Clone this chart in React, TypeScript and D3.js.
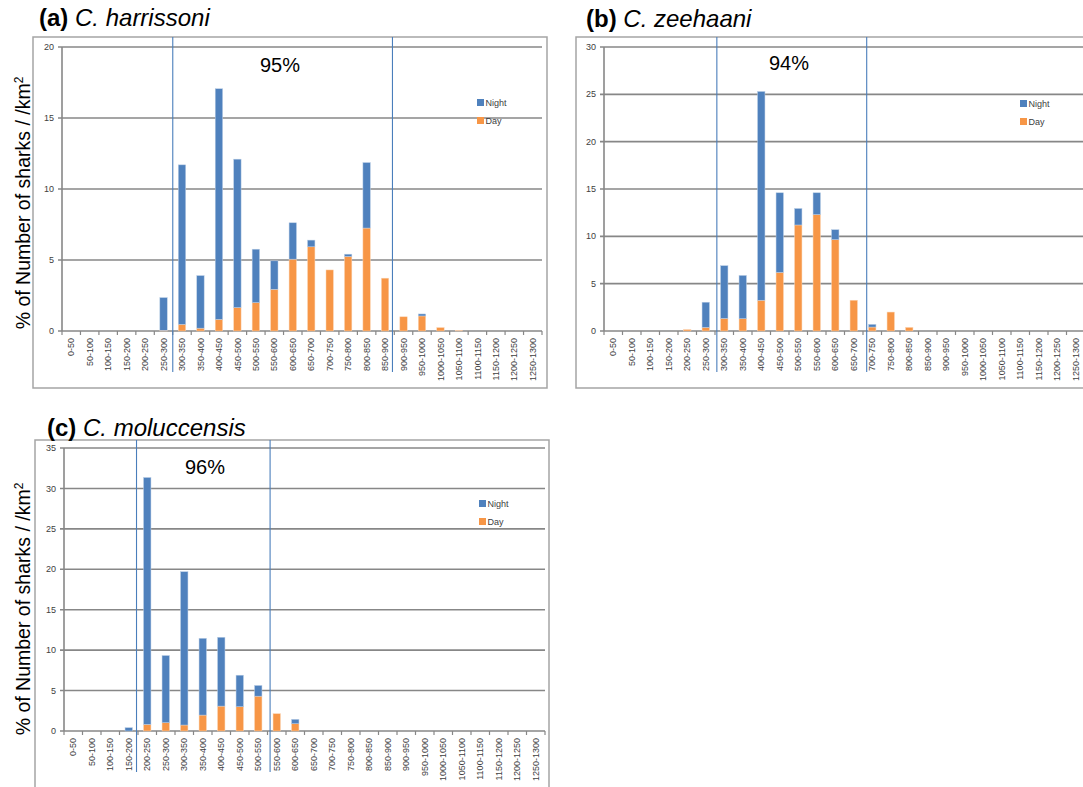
import React from "react";
import * as d3 from "d3";

const categories = [
  "0-50", "50-100", "100-150", "150-200", "200-250", "250-300", "300-350",
  "350-400", "400-450", "450-500", "500-550", "550-600", "600-650", "650-700",
  "700-750", "750-800", "800-850", "850-900", "900-950", "950-1000",
  "1000-1050", "1050-1100", "1100-1150", "1150-1200", "1200-1250", "1250-1300",
];

const harrissoniDay = [0, 0, 0, 0, 0, 0.05, 0.47, 0.2, 0.82, 1.65, 2.0, 2.94, 5.06, 5.93, 4.3, 5.25, 7.25, 3.72, 1.0, 1.06, 0.24, 0.03, 0, 0, 0, 0];
const harrissoniNight = [0, 0, 0, 0, 0, 2.3, 11.23, 3.7, 16.24, 10.45, 3.76, 2.0, 2.56, 0.47, 0, 0.16, 4.61, 0, 0, 0.14, 0, 0, 0, 0, 0, 0];

const zeehaaniDay = [0, 0, 0, 0, 0.15, 0.38, 1.33, 1.3, 3.25, 6.19, 11.2, 12.3, 9.65, 3.25, 0.42, 2.0, 0.38, 0, 0, 0, 0, 0, 0, 0, 0, 0];
const zeehaaniNight = [0, 0, 0, 0, 0, 2.66, 5.57, 4.57, 22.05, 8.41, 1.74, 2.3, 1.05, 0, 0.28, 0, 0, 0, 0, 0, 0, 0, 0, 0, 0, 0];

const moluccensisDay = [0, 0, 0, 0, 0.82, 1.03, 0.74, 1.97, 3.08, 3.0, 4.31, 2.14, 0.9, 0, 0, 0, 0, 0, 0, 0, 0, 0, 0, 0, 0, 0];
const moluccensisNight = [0, 0, 0, 0.41, 30.53, 8.3, 18.96, 9.49, 8.51, 3.9, 1.32, 0, 0.54, 0, 0, 0, 0, 0, 0, 0, 0, 0, 0, 0, 0, 0];

const seriesNames = ["Night", "Day"];
const panelLabels = ["(a)", "(b)", "(c)"];
const speciesNames = ["C. harrissoni", "C. zeehaani", "C. moluccensis"];
const percentLabels = ["95%", "94%", "96%"];
const yMaxes = [20, 30, 35];
// bounds of the 95% region, in category-boundary units
const rangeLines = [[6.0, 17.9], [6.1, 14.2], [3.92, 11.14]];

const NIGHT = "#4f81bd";
const DAY = "#f79646";
const GRID = "#878787";
const FONT = "'Liberation Sans', Arial, sans-serif";

type Layout = {
  x0: number; x1: number; yZero: number; yTop: number;
  box: [number, number, number, number];
  pct: [number, number]; legend: [number, number]; title: [number, number];
  yTitle?: [number, number];
};

const layouts: Layout[] = [
  { x0: 62, x1: 542, yZero: 331, yTop: 47, box: [33, 37, 547, 388], pct: [280, 72], legend: [477, 99], title: [39, 26], yTitle: [30, 203] },
  { x0: 604, x1: 1085, yZero: 331, yTop: 47, box: [576, 37, 1110, 388], pct: [789, 70], legend: [1020, 100], title: [586, 27] },
  { x0: 64, x1: 545, yZero: 731, yTop: 448, box: [35, 440, 549, 790], pct: [205, 474], legend: [479, 500], title: [47, 436], yTitle: [30, 609] },
];

function Panel({ idx, day, night }: { idx: number; day: number[]; night: number[] }) {
  const L = layouts[idx];
  const yMax = yMaxes[idx];
  const x = d3.scaleBand<string>().domain(categories).range([L.x0, L.x1]).paddingInner(0.6).paddingOuter(0.3);
  const xb = d3.scaleLinear().domain([0, categories.length]).range([L.x0, L.x1]);
  const y = d3.scaleLinear().domain([0, yMax]).range([L.yZero, L.yTop]);
  const ticks = d3.range(0, yMax + 1, 5);
  const bw = x.bandwidth();
  const [bx0, by0, bx1, by1] = L.box;

  return (
    <g>
      <rect x={bx0} y={by0} width={bx1 - bx0} height={by1 - by0} fill="#fff" stroke="#a5a5a5" strokeWidth={1.5} />
      <text x={L.title[0]} y={L.title[1]} fontFamily={FONT} fontSize={24} fill="#000">
        <tspan fontWeight="bold">{panelLabels[idx]}</tspan>
        <tspan fontStyle="italic"> {speciesNames[idx]}</tspan>
      </text>
      {ticks.map((t) => (
        <g key={t}>
          <line x1={L.x0 - 4} x2={L.x1} y1={y(t)} y2={y(t)} stroke={GRID} strokeWidth={1.6} />
          <text x={L.x0 - 8} y={y(t)} dy="0.35em" textAnchor="end" fontFamily={FONT} fontSize={9} fill="#404040">{t}</text>
        </g>
      ))}
      <line x1={L.x0} x2={L.x0} y1={L.yTop} y2={L.yZero} stroke={GRID} strokeWidth={1.6} />
      {d3.range(categories.length + 1).map((i) => (
        <line key={i} x1={xb(i)} x2={xb(i)} y1={L.yZero} y2={L.yZero + 4} stroke={GRID} strokeWidth={1.2} />
      ))}
      {categories.map((c, i) => (
        <g key={c}>
          {day[i] > 0 && (
            <rect x={x(c)} y={y(day[i])} width={bw} height={y(0) - y(day[i])} fill={DAY} stroke="#fbd5b5" strokeWidth={0.5} />
          )}
          {night[i] > 0 && (
            <rect x={x(c)} y={y(day[i] + night[i])} width={bw} height={y(day[i]) - y(day[i] + night[i])} fill={NIGHT} stroke="#b9cde5" strokeWidth={0.5} />
          )}
          <text
            transform={`translate(${(x(c) as number) + bw / 2},${L.yZero + 7}) rotate(-90)`}
            dy="0.35em" textAnchor="end" fontFamily={FONT} fontSize={9} fill="#404040"
          >{c}</text>
        </g>
      ))}
      {rangeLines[idx].map((v, i) => (
        <line key={i} x1={xb(v)} x2={xb(v)} y1={by0} y2={L.yZero + 41} stroke="#4a7ebb" strokeWidth={1.1} />
      ))}
      <text x={L.pct[0]} y={L.pct[1]} textAnchor="middle" fontFamily={FONT} fontSize={20} fill="#000">{percentLabels[idx]}</text>
      {seriesNames.map((s, i) => (
        <g key={s}>
          <rect x={L.legend[0]} y={L.legend[1] + i * 18} width={7} height={7} fill={i === 0 ? NIGHT : DAY} />
          <text x={L.legend[0] + 8.5} y={L.legend[1] + 3.5 + i * 18} dy="0.35em" fontFamily={FONT} fontSize={9} fill="#404040">{s}</text>
        </g>
      ))}
      {L.yTitle && (
        <text transform={`translate(${L.yTitle[0]},${L.yTitle[1]}) rotate(-90)`} textAnchor="middle" fontFamily={FONT} fontSize={19.5} fill="#000">
          % of Number of sharks / /km<tspan dy="-7" fontSize={12}>2</tspan>
        </text>
      )}
    </g>
  );
}

export default function App() {
  return (
    <svg width={1083} height={787} style={{ position: "absolute", left: 0, top: 0, background: "#fff" }}>
      <rect width={1083} height={787} fill="#fff" />
      <Panel idx={0} day={harrissoniDay} night={harrissoniNight} />
      <Panel idx={1} day={zeehaaniDay} night={zeehaaniNight} />
      <Panel idx={2} day={moluccensisDay} night={moluccensisNight} />
    </svg>
  );
}
